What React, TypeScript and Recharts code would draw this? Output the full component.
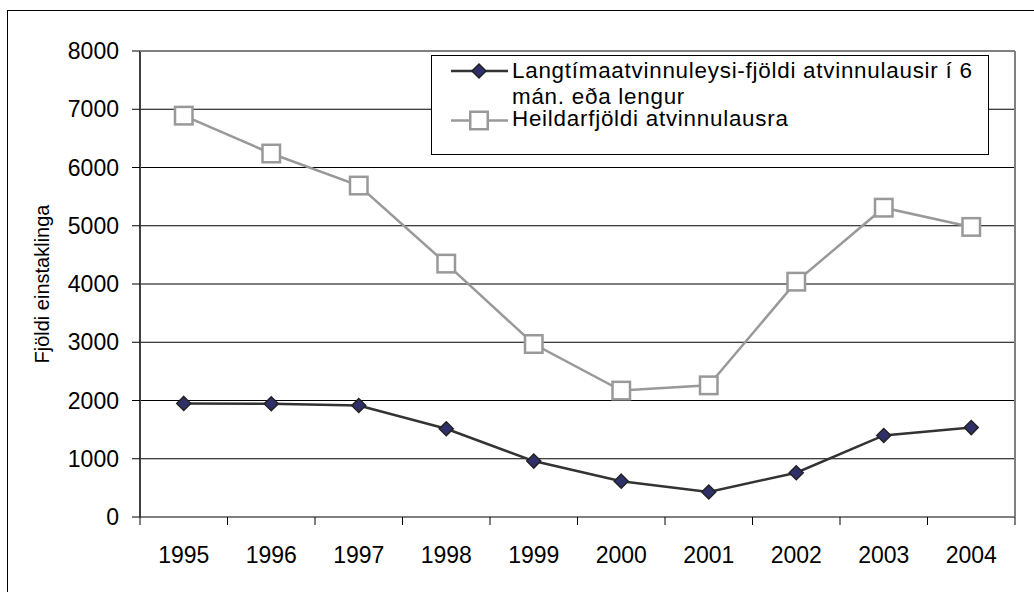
import React from 'react';
import { LineChart, Line, XAxis, YAxis, CartesianGrid } from 'recharts';

const years = ['1995', '1996', '1997', '1998', '1999', '2000', '2001', '2002', '2003', '2004'];
const longTerm = [1950, 1945, 1915, 1515, 960, 615, 430, 760, 1400, 1535];
const total = [6890, 6240, 5690, 4350, 2970, 2170, 2260, 4040, 5310, 4980];
const yTicks = [0, 1000, 2000, 3000, 4000, 5000, 6000, 7000, 8000];
const longTermName = 'Langtímaatvinnuleysi-fjöldi atvinnulausir í 6 mán. eða lengur';
const totalName = 'Heildarfjöldi atvinnulausra';
const yLabel = 'Fjöldi einstaklinga';

const data = years.map((year, i) => ({ year, longTerm: longTerm[i], total: total[i] }));

const W = 1034;
const H = 592;
const MARGIN = { top: 51, right: 19, bottom: 30, left: 0 };
const Y_AXIS_W = 140;
const X_AXIS_H = 45;
const PLOT_W = W - MARGIN.left - MARGIN.right - Y_AXIS_W;
const PLOT_H = H - MARGIN.top - MARGIN.bottom - X_AXIS_H;
const BAND = PLOT_W / years.length;

const FONT = '"Liberation Sans", Arial, sans-serif';
const DARK = '#333333';
const GRAY = '#999999';
const BORDER = '#808080';
const NAVY = '#2f2f6a';

const Diamond = (props: any) => {
  const { cx, cy } = props;
  if (cx == null || cy == null) return null;
  const r = 7;
  return (
    <path
      d={`M${cx},${cy - r}L${cx + r},${cy}L${cx},${cy + r}L${cx - r},${cy}Z`}
      fill={NAVY}
      stroke="#222"
      strokeWidth={1.5}
    />
  );
};

const Square = (props: any) => {
  const { cx, cy } = props;
  if (cx == null || cy == null) return null;
  const s = 17.5;
  return <rect x={cx - s / 2} y={cy - s / 2} width={s} height={s} fill="#fff" stroke={GRAY} strokeWidth={2.5} />;
};

// x tick: label at the category centre, tick marks at the category boundaries;
// the last category's tick also closes the plot frame (right and top edges, grey).
const XTick = (props: any) => {
  const { x, y, payload } = props;
  const half = BAND / 2;
  const last = payload && payload.value === years[years.length - 1];
  return (
    <g>
      <line x1={x - half} x2={x - half} y1={y} y2={y + 8} stroke="#000" strokeWidth={1} />
      {last && (
        <g>
          <line x1={x + half} x2={x + half} y1={y} y2={y + 8} stroke="#000" strokeWidth={1} />
          <line x1={x + half} x2={x + half} y1={y - PLOT_H} y2={y} stroke={BORDER} strokeWidth={2} />
          <line x1={x + half - PLOT_W} x2={x + half} y1={y - PLOT_H} y2={y - PLOT_H} stroke={BORDER} strokeWidth={2} />
        </g>
      )}
      <text x={x} y={y + 46} textAnchor="middle" fontSize={23} fill="#000" fontFamily={FONT}>
        {payload.value}
      </text>
    </g>
  );
};

const YLabel = (props: any) => {
  const vb = props.viewBox || { x: 0, y: MARGIN.top, width: Y_AXIS_W, height: PLOT_H };
  const x = vb.x + 49;
  const y = vb.y + vb.height / 2;
  return (
    <text
      x={x}
      y={y}
      transform={`rotate(-90, ${x}, ${y})`}
      textAnchor="middle"
      fontSize={20}
      fill="#000"
      fontFamily={FONT}
    >
      {yLabel}
    </text>
  );
};

const LegendBox = () => {
  const textStyle: React.CSSProperties = {
    position: 'absolute',
    left: 80,
    width: 470,
    fontSize: 22.4,
    letterSpacing: '0.75px',
    lineHeight: '25.6px',
    fontFamily: FONT,
    color: '#000',
  };
  return (
    <div
      style={{
        position: 'absolute',
        left: 431,
        top: 55,
        width: 556,
        height: 98,
        border: '1px solid #000',
        background: '#fff',
      }}
    >
      <svg style={{ position: 'absolute', left: 0, top: 0 }} width={80} height={98}>
        <line x1={19} x2={76} y1={15} y2={15} stroke={DARK} strokeWidth={2.5} />
        <Diamond cx={47} cy={15} />
        <line x1={19} x2={76} y1={64.5} y2={64.5} stroke={GRAY} strokeWidth={2.5} />
        <Square cx={47} cy={64.5} />
      </svg>
      <div style={{ ...textStyle, top: 2 }}>{longTermName}</div>
      <div style={{ ...textStyle, top: 50.4 }}>{totalName}</div>
    </div>
  );
};

export default function App() {
  return (
    <div style={{ position: 'fixed', left: 0, top: 0, width: W, height: H, overflow: 'hidden', background: '#fff' }}>
      <div
        style={{
          position: 'absolute',
          left: 7,
          top: 10,
          width: 1200,
          height: 800,
          borderLeft: '1px solid #000',
          borderTop: '1px solid #000',
        }}
      />
      <div style={{ position: 'absolute', left: 0, top: 0 }}>
        <LineChart width={W} height={H} data={data} margin={MARGIN}>
          <CartesianGrid horizontal vertical={false} stroke="#000" strokeWidth={1} />
          <XAxis
            dataKey="year"
            scale="band"
            height={X_AXIS_H}
            interval={0}
            tickLine={false}
            tickSize={0}
            tickMargin={0}
            axisLine={{ stroke: BORDER, strokeWidth: 2 }}
            tick={<XTick />}
          />
          <YAxis
            width={Y_AXIS_W}
            domain={[0, 8000]}
            ticks={yTicks}
            interval={0}
            tickSize={8}
            tickMargin={13}
            axisLine={{ stroke: '#404040', strokeWidth: 2 }}
            tickLine={{ stroke: '#000', strokeWidth: 1 }}
            tick={{ fontSize: 23, fill: '#000', fontFamily: FONT }}
            label={<YLabel />}
          />
          <Line
            dataKey="longTerm"
            name={longTermName}
            stroke={DARK}
            strokeWidth={2.5}
            dot={<Diamond />}
            activeDot={false}
            isAnimationActive={false}
          />
          <Line
            dataKey="total"
            name={totalName}
            stroke={GRAY}
            strokeWidth={2.5}
            dot={<Square />}
            activeDot={false}
            isAnimationActive={false}
          />
        </LineChart>
      </div>
      <LegendBox />
    </div>
  );
}
